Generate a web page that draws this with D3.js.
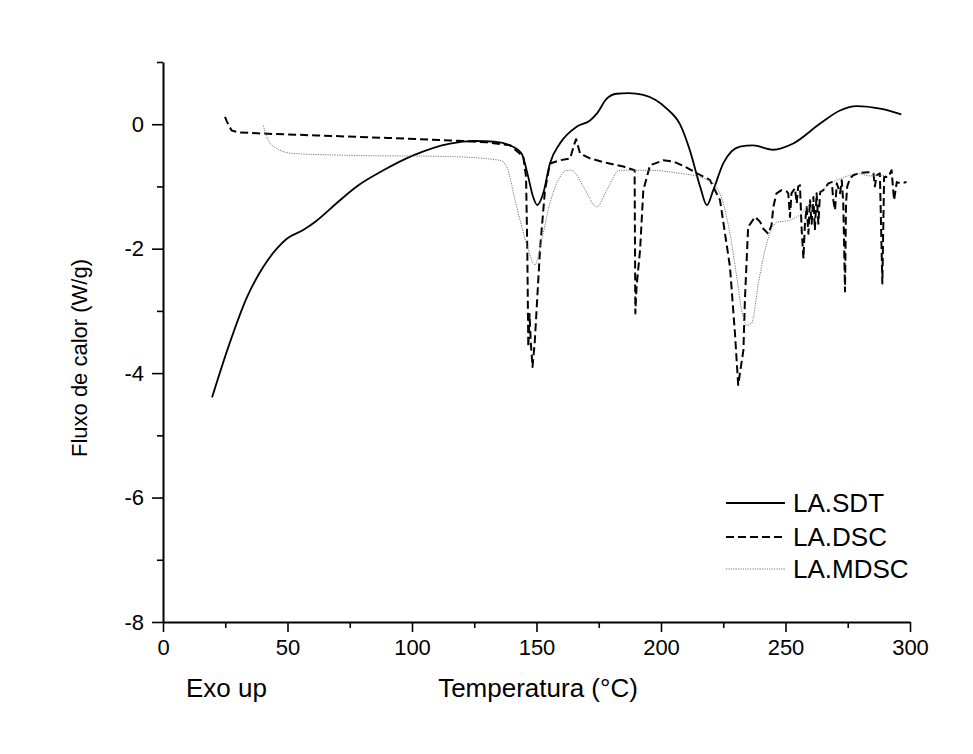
<!DOCTYPE html>
<html><head><meta charset="utf-8">
<script src="https://cdn.jsdelivr.net/npm/d3@7"></script>
<style>body{margin:0;background:#fff}svg{display:block}text{font-family:Arial,"Liberation Sans",sans-serif;fill:#000}</style>
</head><body>
<svg id="c" width="973" height="754"></svg>
<script>
const seriesNames = ["LA.SDT","LA.DSC","LA.MDSC"];
const xTicks = [0,50,100,150,200,250,300];
const yTicks = [0,-2,-4,-6,-8];
const sdt = [[19.7,-4.39],[26.5,-3.55],[33.6,-2.79],[40.3,-2.29],[45.7,-2.0],[49.7,-1.84],[56.3,-1.70],[61.7,-1.55],[69.7,-1.27],[77.8,-1.0],[88.5,-0.74],[100.5,-0.50],[115.3,-0.31],[125,-0.27],[133,-0.28],[139.4,-0.34],[144,-0.47],[146.7,-0.85],[148.5,-1.15],[150.3,-1.30],[152.7,-1.11],[155.4,-0.63],[159.4,-0.31],[166.1,-0.04],[171.5,0.06],[174.2,0.17],[178.2,0.41],[182.2,0.49],[187,0.5],[192.9,0.47],[202.3,0.25],[207.6,0.0],[211.6,-0.42],[215.7,-1.0],[218.4,-1.30],[221,-1.06],[225,-0.63],[231.7,-0.36],[237,-0.34],[245.1,-0.41],[253.1,-0.31],[263.9,0.01],[271.9,0.22],[278.6,0.29],[288,0.25],[296.5,0.16]];
const dsc = [[24.9,0.12],[25.6,0.05],[26.5,-0.03],[27.6,-0.10],[30.2,-0.13],[40,-0.15],[61.7,-0.18],[90,-0.22],[115.3,-0.26],[130,-0.29],[139.4,-0.34],[144.7,-0.52],[145.8,-0.85],[146.3,-2.0],[146.7,-3.58],[147.2,-3.05],[147.7,-3.5],[148.4,-3.90],[149.3,-3.5],[151.4,-2.02],[153.4,-1.06],[155.4,-0.63],[159.4,-0.58],[163.5,-0.55],[165.2,-0.32],[165.9,-0.24],[167.5,-0.47],[171.5,-0.55],[178,-0.62],[184.9,-0.68],[189.4,-0.74],[189.7,-3.04],[190.2,-2.6],[191.6,-2.02],[192.9,-1.06],[195.6,-0.66],[200.9,-0.58],[205,-0.60],[209.6,-0.68],[215,-0.80],[219.7,-0.90],[223.7,-1.22],[227.7,-2.29],[229.7,-3.36],[231,-4.19],[233.1,-3.63],[233.7,-2.82],[235,-1.65],[237.8,-1.49],[239.8,-1.57],[241.1,-1.68],[243.1,-1.76],[244.4,-1.62],[245.1,-1.33],[246.4,-1.11],[248.4,-1.06],[250.5,-1.08],[251.1,-1.11],[251.8,-1.49],[252.4,-1.11],[253.8,-1.03],[254.5,-1.27],[255.1,-1.0],[255.8,-0.98],[256.5,-1.70],[257.2,-2.16],[257.8,-1.60],[258.5,-1.33],[259.2,-1.76],[259.8,-1.22],[260.5,-1.60],[261.2,-1.17],[261.8,-1.70],[262.5,-1.11],[263.2,-1.60],[263.9,-1.09],[265.2,-1.06],[267.2,-0.95],[268.6,-0.93],[269.2,-1.22],[269.9,-1.38],[270.6,-0.95],[271.9,-1.11],[272.6,-0.90],[273.2,-1.27],[273.9,-2.69],[274.3,-1.27],[274.8,-1.0],[275.9,-0.87],[277.2,-0.82],[279.9,-0.78],[283.2,-0.77],[285.3,-0.79],[285.9,-1.0],[286.6,-0.82],[287.9,-0.79],[288.9,-2.56],[289.6,-0.85],[291.3,-0.85],[292.6,-0.74],[293.6,-1.22],[294.7,-0.93],[296,-0.95],[298.6,-0.93]];
const mdsc = [[40.3,-0.02],[41,-0.12],[42.3,-0.26],[45.7,-0.39],[52.3,-0.47],[75.1,-0.50],[115.3,-0.52],[135.3,-0.58],[138,-0.68],[141.4,-1.22],[144.1,-1.65],[146.7,-2.02],[149.4,-2.26],[152.1,-1.86],[155.4,-1.27],[159.4,-0.85],[162.1,-0.74],[164.1,-0.74],[168.8,-1.00],[174.2,-1.33],[178.2,-1.06],[183.5,-0.74],[195.6,-0.74],[207.6,-0.79],[215.7,-0.85],[221,-0.95],[225,-1.27],[227.7,-1.76],[230.4,-2.45],[232.4,-2.99],[234.4,-3.23],[236.4,-3.20],[239.1,-2.56],[242.4,-1.92],[246.4,-1.58],[251.8,-1.54],[256,-1.45],[262.5,-1.14],[269.2,-0.93],[275.9,-0.82],[278.6,-0.79],[284,-0.83],[290.7,-0.82]];

const svg = d3.select("#c");
const x = d3.scaleLinear().domain([0,300]).range([163,910]);
const y = d3.scaleLinear().domain([-8,1]).range([622,62]);

const fmt = d => String(d);
const xAxis = d3.axisBottom(x).tickValues(xTicks).tickSize(10).tickPadding(7).tickFormat(fmt).tickSizeOuter(0);
const xMinor = d3.axisBottom(x).tickValues(d3.range(25,300,50)).tickSize(6).tickFormat("");
const yAxis = d3.axisLeft(y).tickValues(yTicks).tickSize(11).tickPadding(8).tickFormat(fmt).tickSizeOuter(0);
const yMinor = d3.axisLeft(y).tickValues([1,-1,-3,-5,-7]).tickSize(6).tickFormat("");

function styleAxis(g){
  g.select(".domain").attr("stroke","#000").attr("stroke-width",2);
  g.selectAll(".tick line").attr("stroke","#000").attr("stroke-width",1.6);
  g.selectAll(".tick text").style("font-size","22px").attr("fill","#000");
}
svg.append("g").attr("transform","translate(0,622)").call(xMinor).call(styleAxis).select(".domain").remove();
svg.append("g").attr("transform","translate(163,0)").call(yMinor).call(styleAxis).select(".domain").remove();
svg.append("g").attr("transform","translate(0,622)").call(xAxis).call(styleAxis);
svg.append("g").attr("transform","translate(163,0)").call(yAxis).call(styleAxis);

svg.append("text").attr("transform","translate(87,358) rotate(-90)").attr("text-anchor","middle").style("font-size","22px").text("Fluxo de calor (W/g)");
svg.append("text").attr("x",538).attr("y",697).attr("text-anchor","middle").style("font-size","26px").text("Temperatura (°C)");
svg.append("text").attr("x",186).attr("y",697).style("font-size","26px").text("Exo up");

const line = d3.line().x(d=>x(d[0])).y(d=>y(d[1]));
const smooth = d3.line().x(d=>x(d[0])).y(d=>y(d[1])).curve(d3.curveMonotoneX);
const styles = [
  {data:sdt, gen:smooth, stroke:"#000", w:1.8, dash:null},
  {data:dsc, gen:line, stroke:"#000", w:2, dash:"8,4"},
  {data:mdsc, gen:smooth, stroke:"#777", w:1, dash:"1.2,1.2"}
];
styles.forEach(s=>{
  svg.append("path").attr("d",s.gen(s.data)).attr("fill","none").attr("stroke",s.stroke)
    .attr("stroke-width",s.w).attr("stroke-dasharray",s.dash).attr("stroke-linejoin","round");
});

const ly = [503,537,569];
seriesNames.forEach((n,i)=>{
  const s = styles[i];
  svg.append("line").attr("x1",726).attr("x2",785).attr("y1",ly[i]).attr("y2",ly[i])
    .attr("stroke",s.stroke).attr("stroke-width",s.w).attr("stroke-dasharray",s.dash);
  svg.append("text").attr("x",793).attr("y",ly[i]+9).style("font-size","26px").text(n);
});
</script>
</body></html>
